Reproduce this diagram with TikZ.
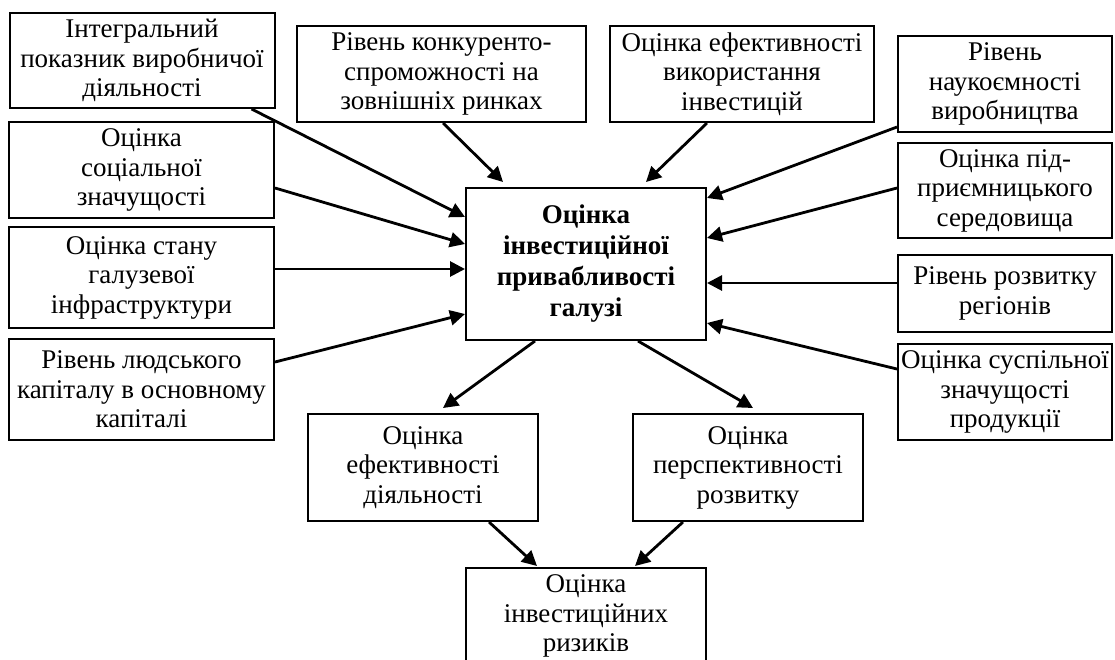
\documentclass[tikz,border=0pt]{standalone}
\usepackage{fontspec}
\setmainfont{Liberation Serif}
\usetikzlibrary{arrows.meta,calc}

\begin{document}
\begin{tikzpicture}[x=1pt, y=-1pt,
                    every node/.style={rectangle, draw=black, line width=2pt, inner sep=0pt, align=center,
                                       font=\fontsize{27}{29.5}\selectfont},
                    every edge/.style={draw, line width=2.8pt, -{Triangle[length=15pt,width=15pt]}}]

                    \path[use as bounding box, clip] (0,0) rectangle (1115,659);

                    % Define nodes
                    \node[minimum width=240, minimum height=152, font=\fontsize{27}{31}\selectfont\bfseries] (c) at (586,264)
                        {Оцінка\\інвестиційної\\привабливості\\галузі}; % Centre node
                    \node[minimum width=265, minimum height=95] (l1) at (142,60.5) {Інтегральний\\показник виробничої\\діяльності};
                    \node[minimum width=265, minimum height=96] (l2) at (141.5,170) {Оцінка\\соціальної\\значущості};
                    \node[minimum width=265, minimum height=101] (l3) at (141.5,277.5) {Оцінка стану\\галузевої\\інфраструктури};
                    \node[minimum width=265, minimum height=101] (l4) at (141.5,389.5) {Рівень людського\\капіталу в основному\\капіталі};
                    \node[minimum width=289, minimum height=96] (t1) at (441.5,74) {Рівень конкуренто-\\спроможності на\\зовнішніх ринках};
                    \node[minimum width=264, minimum height=96] (t2) at (742,74) {Оцінка ефективності\\використання\\інвестицій};
                    \node[minimum width=214, minimum height=96] (r1) at (1005,84) {Рівень\\наукоємності\\виробництва};
                    \node[minimum width=214, minimum height=95] (r2) at (1005,190.5) {Оцінка під-\\приємницького\\середовища};
                    \node[minimum width=214, minimum height=77] (r3) at (1005,293.5) {Рівень розвитку\\регіонів};
                    \node[minimum width=214, minimum height=96] (r4) at (1005,392) {Оцінка суспільної\\значущості\\продукції};
                    \node[minimum width=230, minimum height=107] (b1) at (423,467.5) {Оцінка\\ефективності\\діяльності}; % Left result
                    \node[minimum width=230, minimum height=107] (b2) at (748,467.5) {Оцінка\\перспективності\\розвитку}; % Right result
                    \node[minimum width=240, minimum height=96.5] (b3) at (586,616.25) {Оцінка\\інвестиційних\\ризиків}; % Final node

                    % Define edges
                    \path ($(l1.south east)+(-24,0)$) edge ($(c.west)+(0,-47)$);
                    \path ($(l2.east)+(0,18)$) edge ($(c.west)+(0,-20)$);
                    \path ($(l3.east)+(0,-8.5)$) edge ($(c.west)+(0,5)$);
                    \path ($(l4.east)+(0,-27.5)$) edge ($(c.west)+(0,50)$);
                    \path ($(t1.south)+(1.5,0)$) edge ($(c.north)+(-83,-5)$);
                    \path ($(t2.south)+(-35,0)$) edge ($(c.north)+(60,-5)$);
                    \path ($(r1.west)+(0,43)$) edge ($(c.east)+(0,-66)$);
                    \path ($(r2.west)+(0,-2.5)$) edge ($(c.east)+(0,-26)$);
                    \path ($(r3.west)+(0,-10.5)$) edge ($(c.east)+(0,19)$);
                    \path ($(r4.west)+(0,-23)$) edge ($(c.east)+(0,59)$);
                    \path ($(c.south)+(-51,0)$) edge ($(b1.north)+(20,-5)$);
                    \path ($(c.south)+(52,0)$) edge ($(b2.north)+(5,-5)$);
                    \path ($(b1.south)+(66,0)$) edge ($(b3.north)+(-49,-1)$);
                    \path ($(b2.south)+(-65,0)$) edge ($(b3.north)+(49,-1)$);
                \end{tikzpicture}
\end{document}
